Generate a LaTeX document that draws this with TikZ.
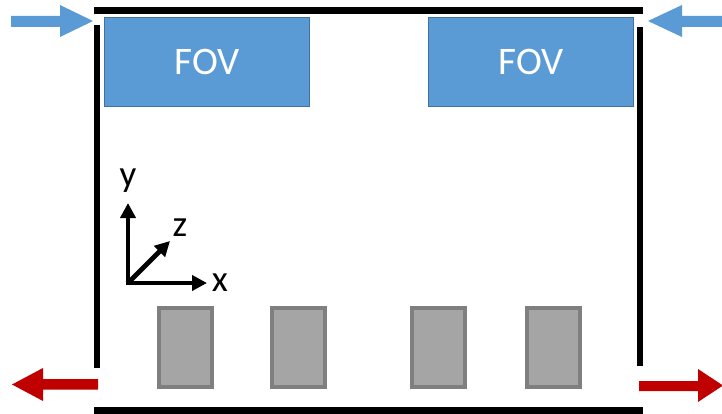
\documentclass[tikz,border=0pt]{standalone}
\usepackage{fontspec}
\setmainfont{Carlito}
\usetikzlibrary{arrows.meta}
\definecolor{fovblue}{HTML}{5B9BD5}
\definecolor{fovedge}{HTML}{41719C}
\definecolor{arrred}{HTML}{C00000}
\definecolor{boxgray}{HTML}{A5A5A5}
\definecolor{boxedge}{HTML}{7F7F7F}
\begin{document}
\begin{tikzpicture}[x=1pt,y=-1pt,
  wall/.style={line width=6.5pt,black},
  fov/.style={draw=fovedge,line width=1.2pt,fill=fovblue,minimum width=205pt,minimum height=89pt,inner sep=0pt,
    text=white,font=\fontsize{39}{42}\selectfont},
  part/.style={draw=boxedge,line width=4pt,fill=boxgray,minimum width=53pt,minimum height=79pt,inner sep=0pt},
  axis/.style={line width=4.8pt,-{Triangle[length=15pt,width=15pt]}},
  axlbl/.style={font=\fontsize{37}{39}\selectfont,inner sep=0pt}]
\useasboundingbox (0,0) rectangle (722,414);
% walls
\draw[wall] (94,10.5) -- (643,10.5);
\draw[wall] (94,410.5) -- (643,410.5);
\draw[wall] (97,25) -- (97,368);
\draw[wall] (640,27) -- (640,366);
% FOV boxes
\node[fov] (fovL) at (207,62) {FOV};
\node[fov] (fovR) at (531,62) {FOV};
% inlet arrows (blue)
\fill[fovblue] (11,16) -- (60,16) -- (60,5) -- (93,21) -- (60,37) -- (60,27) -- (11,27) -- cycle;
\fill[fovblue] (722,16) -- (682,16) -- (682,5) -- (648,21) -- (682,37) -- (682,27) -- (722,27) -- cycle;
% outlet arrows (red)
\fill[arrred] (98,379) -- (43,379) -- (43,368) -- (12,384.5) -- (43,401) -- (43,389.5) -- (98,389.5) -- cycle;
\fill[arrred] (639,381) -- (698,381) -- (698,369) -- (723,385.5) -- (698,402) -- (698,391) -- (639,391) -- cycle;
% axes
\coordinate (o) at (128,283);
\coordinate (xe) at (207,283);
\coordinate (ye) at (128,203);
\coordinate (ze) at (170,241);
\draw[axis] ([xshift=-2.4pt]o) -- (xe);
\draw[axis] ([yshift=2.4pt]o) -- (ye);
\draw[axis] (o) -- (ze);
\node[axlbl] (xl) at (220,283) {x};
\node[axlbl] (yl) at (128,181) {y};
\node[axlbl] (zl) at (180,228) {z};
% parts
\node[part] (p1) at (185,347.5) {};
\node[part] (p2) at (298,347.5) {};
\node[part] (p3) at (438.5,347.5) {};
\node[part] (p4) at (553,347) {};
\end{tikzpicture}
\end{document}
